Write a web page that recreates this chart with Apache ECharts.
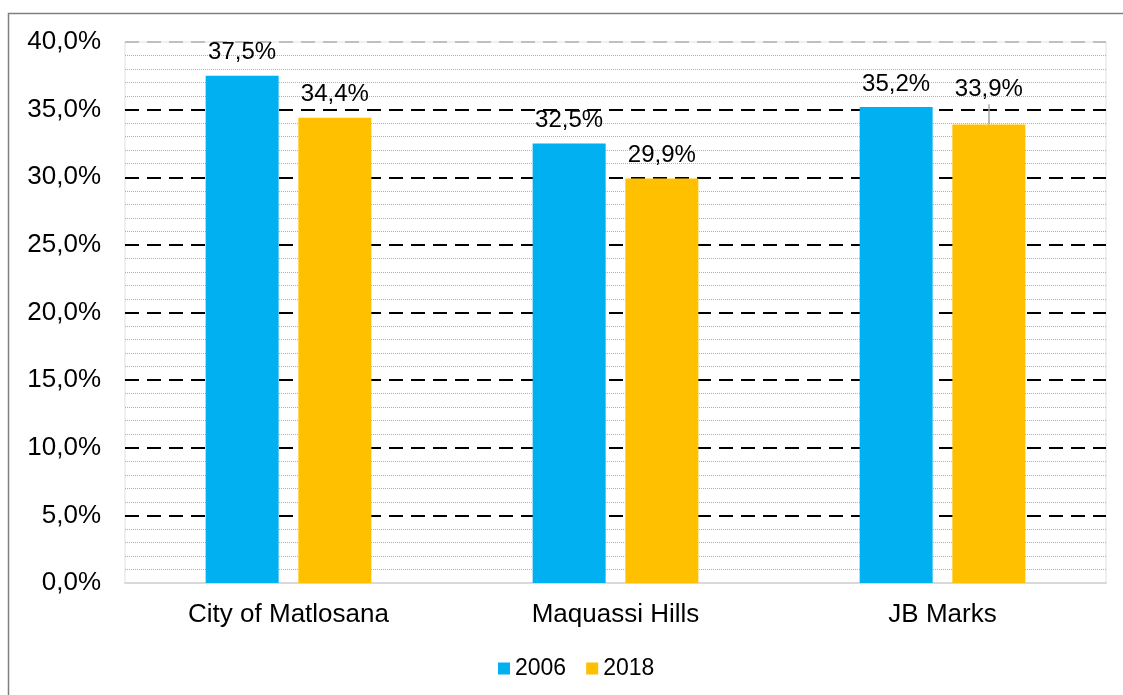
<!DOCTYPE html>
<html>
<head>
<meta charset="utf-8">
<script src="https://cdn.jsdelivr.net/npm/echarts@6/dist/echarts.min.js"></script>
<style>
  html, body { margin: 0; padding: 0; background: #fff; }
  #chart { width: 1123px; height: 695px; }
</style>
</head>
<body>
<div id="chart"></div>
<script>
var categories = ['City of Matlosana', 'Maquassi Hills', 'JB Marks'];
var values2006 = [37.5, 32.5, 35.2];
var values2018 = [34.4, 29.9, 33.9];
// stray error bar on JB Marks 2018 in the original
var errorBar = [[2, 33.9, 35.4]];

function pct(v) {
  return v.toFixed(1).replace('.', ',') + '%';
}

// label of a bar with an error bar sits higher, above the whisker
function barData(values, withError) {
  return values.map(function (v, i) {
    if (withError && errorBar.some(function (e) { return e[0] === i; })) {
      return { value: v, label: { distance: 23 } };
    }
    return v;
  });
}

var chart = echarts.init(document.getElementById('chart'), null, { renderer: 'canvas' });

var labelStyle = {
  show: true,
  position: 'top',
  distance: 11,
  fontSize: 24,
  color: '#000',
  formatter: function (p) { return pct(p.value); }
};

var options = {
  animation: false,
  textStyle: { fontFamily: 'Liberation Sans, Arial, sans-serif' },
  graphic: [{
    type: 'rect',
    silent: true,
    shape: { x: 8.5, y: 13.5, width: 1300, height: 1000 },
    style: { fill: 'none', stroke: '#7f7f7f', lineWidth: 1.5 }
  }],
  grid: { left: 125, right: 17, top: 42, bottom: 112, show: true, borderColor: '#e0e0e0', borderWidth: 1 },
  legend: {
    bottom: 10,
    left: 493,
    itemWidth: 12,
    itemHeight: 12,
    itemGap: 20,
    icon: 'rect',
    textStyle: { fontSize: 23, color: '#000', padding: [0, 0, 0, 0] },
    data: ['2006', '2018']
  },
  xAxis: {
    type: 'category',
    data: categories,
    axisLine: { lineStyle: { color: '#d9d9d9', width: 2 } },
    axisTick: { show: false },
    axisLabel: { fontSize: 26, color: '#000', margin: 19 }
  },
  yAxis: {
    type: 'value',
    min: 0,
    max: 40,
    interval: 5,
    axisLine: { show: false },
    axisTick: { show: false },
    axisLabel: { fontSize: 26, color: '#000', margin: 24, formatter: pct },
    splitLine: {
      lineStyle: {
        color: ['#000', '#000', '#000', '#000', '#000', '#000', '#000', '#000', '#bfbfbf'],
        type: [14, 8],
        width: 2
      }
    },
    minorTick: { show: false, splitNumber: 5 },
    minorSplitLine: { show: true, lineStyle: { color: '#b0b0b0', type: [1, 1], width: 1 } }
  },
  series: [
    {
      name: '2006',
      type: 'bar',
      data: barData(values2006, false),
      barWidth: 73,
      barGap: '27%',
      itemStyle: { color: '#00b0f0' },
      label: labelStyle
    },
    {
      name: '2018',
      type: 'bar',
      data: barData(values2018, true),
      barWidth: 73,
      barGap: '27%',
      itemStyle: { color: '#ffc000' },
      label: labelStyle
    },
    {
      type: 'custom',
      silent: true,
      z: 5,
      data: errorBar,
      renderItem: function (params, api) {
        var lo = api.coord([api.value(0), api.value(1)]);
        var hi = api.coord([api.value(0), api.value(2)]);
        var x = lo[0] + 46.5;
        return {
          type: 'line',
          shape: { x1: x, y1: lo[1], x2: x, y2: hi[1] },
          style: { stroke: '#a6a6a6', lineWidth: 1.5 }
        };
      }
    }
  ]
};

chart.setOption(options);
</script>
</body>
</html>
